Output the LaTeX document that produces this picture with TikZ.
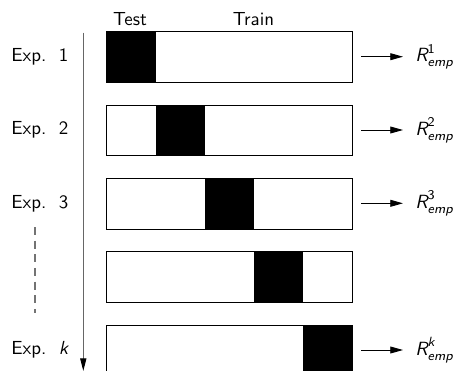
\documentclass[tikz,border=0pt]{standalone}
\usepackage{amsmath}
\usetikzlibrary{arrows.meta}
\renewcommand{\familydefault}{\sfdefault}
\begin{document}
\begin{tikzpicture}[x=0.55pt,y=-0.55pt,
  font=\sffamily\fontsize{10.4}{12}\selectfont,
  seg/.style={draw=none,minimum width=49*0.55pt,minimum height=50*0.55pt,inner sep=0pt,anchor=north west},
  testseg/.style={seg,fill=black},
  trainseg/.style={seg,fill=white},
  frame/.style={draw=black,line width=0.5pt},
  header/.style={anchor=base,inner sep=0pt},
  explabel/.style={anchor=west,inner sep=0pt},
  rlabel/.style={anchor=west,inner sep=0pt,font=\sffamily\fontsize{10.5}{12}\selectfont},
  res/.style={-{Triangle[length=7pt,width=3.8pt]},line width=0.5pt},
]
\useasboundingbox (0,0) rectangle (454,371);
% header
\node[header] (test) at (130,25) {Test};
\node[header] (train) at (253.5,25) {Train};
% boxes
\foreach \r/\y in {1/31.7,2/105,3/178.3,4/251.7,5/325}{
  \foreach \c in {1,...,5}{
    \pgfmathsetmacro{\xx}{106.7+49*(\c-1)}
    \ifnum\c=\r
      \node[testseg] (b\r\c) at (\xx,\y) {};
    \else
      \node[trainseg] (b\r\c) at (\xx,\y) {};
    \fi
  }
  \draw[frame] (b\r1.north west) rectangle (b\r5.south east);
}
% labels
\node[explabel] (e1) at (11,56.7) {Exp.\ \ 1};
\node[explabel] (e2) at (11,130) {Exp.\ \ 2};
\node[explabel] (e3) at (11,203.3) {Exp.\ \ 3};
\node[explabel] (ek) at (11,350) {Exp.\ \ \textit{k}};
% time axis
\coordinate (vt) at (83.3,32.5);
\coordinate (vb) at (83.3,371);
\draw[black!60,line width=0.6pt,-{Triangle[length=7pt,width=3.4pt,fill=black,color=black]}] (vt) -- (vb);
% dashed
\coordinate (dt) at (35,227);
\coordinate (db) at (35,313);
\draw[black!55,line width=0.6pt,dash pattern=on 4.5pt off 3pt] (dt) -- (db);
% results
\foreach \r/\y/\s in {1/56.7/\textsf{1},2/130/\textsf{2},3/203.3/\textsf{3},5/350/\textit{k}}{
  \coordinate (a\r) at (361,\y);
  \node[rlabel] (r\r) at (415,\y) {$\textit{R}^{\s}_{\textit{emp}}$};
  \draw[res] (a\r) -- (r\r.west -| 403,0);
}
\end{tikzpicture}
\end{document}
